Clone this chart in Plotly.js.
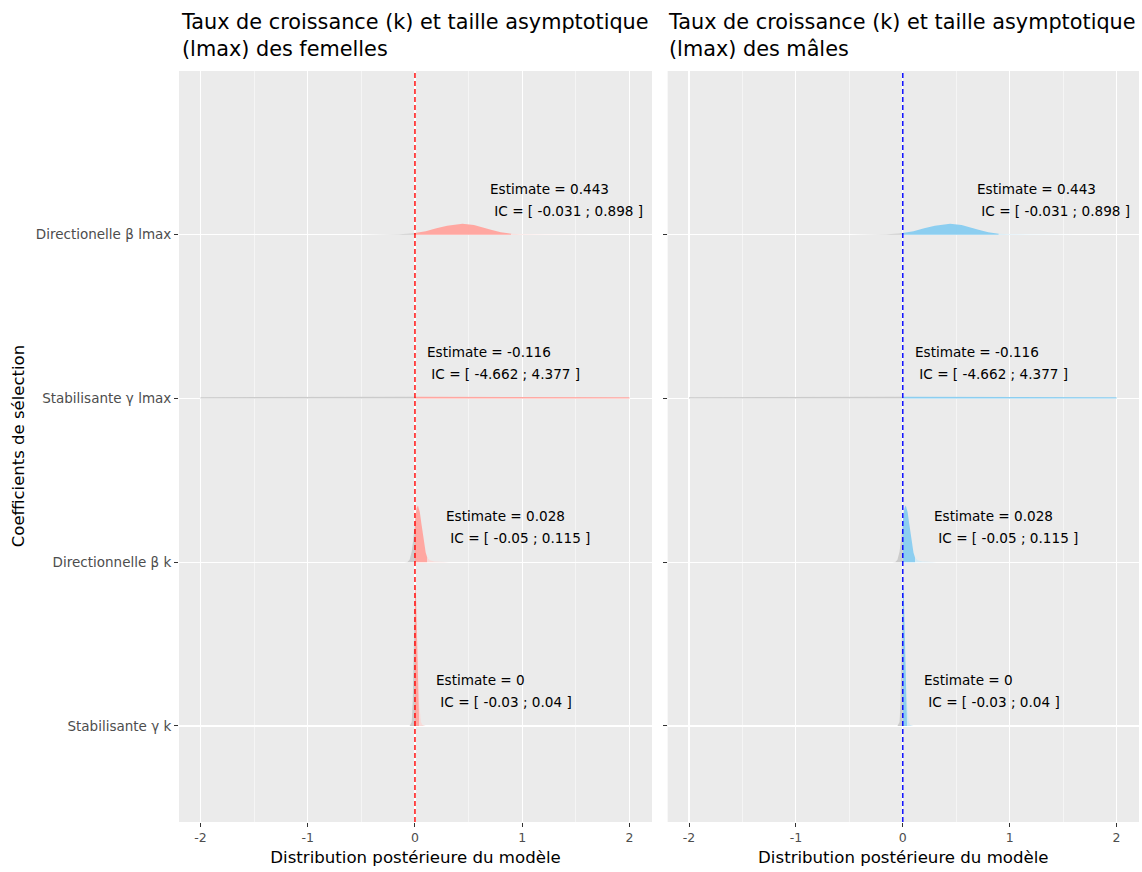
<!DOCTYPE html>
<html><head><meta charset="utf-8">
<script src="https://cdn.plot.ly/plotly-3.0.1.min.js"></script>
<style>body{margin:0;background:#fff}#chart{width:1142px;height:872px}</style>
</head><body><div id="chart"></div><script>
// ---- data ----
const categories = ["Stabilisante γ k", "Directionnelle β k", "Stabilisante γ lmax", "Directionelle β lmax"];
const panelTitles = ["Taux de croissance (k) et taille asymptotique<br>(lmax) des femelles",
                     "Taux de croissance (k) et taille asymptotique<br>(lmax) des mâles"];
const estimates = [0, 0.028, -0.116, 0.443];
const ciLower = [-0.03, -0.05, -4.662, -0.031];
const ciUpper = [0.04, 0.115, 4.377, 0.898];
const xTicks = [-2, -1, 0, 1, 2];

// posterior density curves (height in units of ridge spacing)
const densX_gamma_k = [-0.05, -0.03, -0.02, -0.01, 0, 0.002, 0.01, 0.02, 0.03, 0.04, 0.055, 0.07, 0.1];
const densH_gamma_k = [0, 0.024, 0.161, 0.522, 0.848, 0.86, 0.794, 0.574, 0.323, 0.141, 0.026, 0.006, 0];
const densX_beta_k = [-0.1, -0.07, -0.05, -0.03, -0.015, 0, 0.015, 0.028, 0.045, 0.06, 0.08, 0.1, 0.115, 0.14, 0.18, 0.25, 0.32];
const densH_beta_k = [0, 0.002, 0.015, 0.065, 0.143, 0.247, 0.329, 0.347, 0.306, 0.237, 0.136, 0.059, 0.028, 0.012, 0.005, 0.002, 0];
const densX_gamma_lmax = [-2, -1.5, -1, -0.5, 0, 0.5, 1, 1.5, 2];
const densH_gamma_lmax = [0.008, 0.009, 0.010, 0.011, 0.011, 0.011, 0.010, 0.009, 0.008];
const densX_beta_lmax = [-0.5, -0.3, -0.15, -0.031, 0, 0.1, 0.2, 0.3, 0.443, 0.55, 0.7, 0.8, 0.898, 1.0, 1.2, 1.4, 1.65];
const densH_beta_lmax = [0, 0.0006, 0.003, 0.008, 0.011, 0.022, 0.039, 0.055, 0.067, 0.060, 0.032, 0.015, 0.006, 0.003, 0.002, 0.001, 0];

const densX = [densX_gamma_k, densX_beta_k, densX_gamma_lmax, densX_beta_lmax];
const densH = [densH_gamma_k, densH_beta_k, densH_gamma_lmax, densH_beta_lmax];

// ---- styles ----
const mainColors = ["#FFA7A1", "#8CCEF0"];
const paleColors = ["#F8DAD8", "#D3EAF5"];
const greyFill = "#CBCBCB";
const vlineColors = ["#FF0000", "#0000FF"];
const labelX = [0.178, 0.27, 0.093, 0.68];
const FONT = "DejaVu Sans, Liberation Sans, Arial, sans-serif";

const traces = [];
function addSegment(xs, hs, cat, a, b, color, xa, ya) {
  const px = [], py = [];
  for (let i = 0; i < xs.length; i++) {
    if (xs[i] >= a && xs[i] <= b) { px.push(xs[i]); py.push(cat + hs[i]); }
  }
  if (px.length < 2) return;
  const x0 = px[0], x1 = px[px.length - 1];
  px.push(x1, x0, x0); py.push(cat, cat, py[0]);
  traces.push({type: "scatter", mode: "lines", x: px, y: py, fill: "toself", fillcolor: color,
    line: {width: 0, color: color}, hoverinfo: "skip", showlegend: false, xaxis: xa, yaxis: ya});
}

const annotations = [];
const shapes = [];
[0, 1].forEach(p => {
  const xa = p === 0 ? "x" : "x2", ya = p === 0 ? "y" : "y2";
  categories.forEach((c, i) => {
    const cat = i + 1;
    addSegment(densX[i], densH[i], cat, -Infinity, 0, greyFill, xa, ya);
    addSegment(densX[i], densH[i], cat, 0, ciUpper[i], mainColors[p], xa, ya);
    addSegment(densX[i], densH[i], cat, ciUpper[i], Infinity, paleColors[p], xa, ya);
    annotations.push({xref: xa, yref: ya, x: labelX[i], y: cat + 0.281, xanchor: "left", yanchor: "middle",
      text: "Estimate = " + estimates[i], showarrow: false, font: {family: FONT, size: 13.6, color: "#000"}});
    annotations.push({xref: xa, yref: ya, x: labelX[i], y: cat + 0.147, xanchor: "left", yanchor: "middle",
      text: "\u00A0IC = [ " + ciLower[i] + " ; " + ciUpper[i] + " ]", showarrow: false,
      font: {family: FONT, size: 13.6, color: "#000"}});
  });
  shapes.push({type: "line", xref: xa, yref: "paper", x0: 0, x1: 0, y0: 0, y1: 1,
    line: {color: vlineColors[p], width: 1.4, dash: "5px,3px"}, layer: "above"});
});

const dom = [[0, 0.4927], [0.509, 1]];
annotations.push({xref: "paper", yref: "paper", x: 0.0021, xshift: -2, y: 1, yshift: 63, xanchor: "left", yanchor: "top",
  text: panelTitles[0], align: "left", showarrow: false, font: {family: FONT, size: 20.8, color: "#000"}});
annotations.push({xref: "paper", yref: "paper", x: dom[1][0], xshift: -2, y: 1, yshift: 63, xanchor: "left", yanchor: "top",
  text: panelTitles[1], align: "left", showarrow: false, font: {family: FONT, size: 20.8, color: "#000"}});
annotations.push({xref: "paper", yref: "paper", x: -0.167, y: 0.5, xanchor: "center", yanchor: "middle",
  text: "Coefficients de sélection", textangle: -90, showarrow: false, font: {family: FONT, size: 16.5, color: "#000"}});

function xaxisDef(d, anchor) {
  return {domain: d, anchor: anchor, range: [-2.2, 2.21], tickvals: xTicks, ticktext: xTicks.map(String),
    ticks: "outside", ticklen: 4, tickcolor: "#333333", tickwidth: 1,
    tickfont: {family: FONT, size: 12.5, color: "#4D4D4D"},
    showgrid: true, gridcolor: "#FFFFFF", gridwidth: 1.1, zeroline: false, showline: false,
    minor: {dtick: 0.5, showgrid: true, gridcolor: "#FFFFFF", gridwidth: 0.5, ticks: ""},
    title: {text: "Distribution postérieure du modèle", standoff: 7, font: {family: FONT, size: 16.6, color: "#000"}}};
}
function yaxisDef(anchor, labels) {
  return {anchor: anchor, range: [0.4135, 5.0], tickvals: [1, 2, 3, 4], ticktext: categories,
    showticklabels: labels, ticks: "outside", ticklen: 4, tickcolor: "#333333", tickwidth: 1,
    tickfont: {family: FONT, size: 13.5, color: "#4D4D4D"},
    showgrid: true, gridcolor: "#FFFFFF", gridwidth: 1.1, zeroline: false, showline: false};
}

const layout = {
  width: 1142, height: 872,
  margin: {l: 179, r: 3, t: 71, b: 50},
  paper_bgcolor: "#FFFFFF", plot_bgcolor: "#EBEBEB",
  font: {family: FONT},
  showlegend: false,
  xaxis: xaxisDef(dom[0], "y"),
  xaxis2: xaxisDef(dom[1], "y2"),
  yaxis: yaxisDef("x", true),
  yaxis2: yaxisDef("x2", false),
  annotations: annotations,
  shapes: shapes
};
Plotly.newPlot("chart", traces, layout, {displayModeBar: false, staticPlot: true});
</script></body></html>
